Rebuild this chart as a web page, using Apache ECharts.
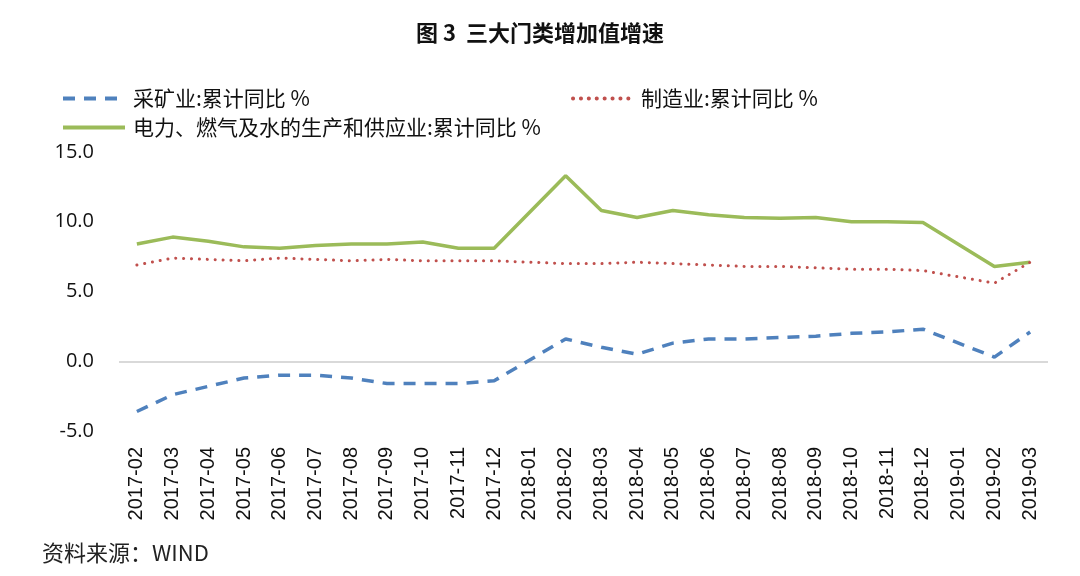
<!DOCTYPE html>
<html>
<head>
<meta charset="utf-8">
<script src="https://cdn.jsdelivr.net/npm/echarts@6/dist/echarts.min.js"></script>
<style>
html,body{margin:0;padding:0;background:#fff;}
#chart{width:1080px;height:576px;}
</style>
</head>
<body>
<div id="chart"></div>
<script>
const titleText = '图 3  三大门类增加值增速';
const sourceText = '资料来源：WIND';
const categories = ['2017-02','2017-03','2017-04','2017-05','2017-06','2017-07','2017-08','2017-09','2017-10','2017-11','2017-12','2018-01','2018-02','2018-03','2018-04','2018-05','2018-06','2018-07','2018-08','2018-09','2018-10','2018-11','2018-12','2019-01','2019-02','2019-03'];
const seriesNames = ['采矿业:累计同比 %','制造业:累计同比 %','电力、燃气及水的生产和供应业:累计同比 %'];
const mining = [-3.6,-2.4,-1.8,-1.2,-1.0,-1.0,-1.2,-1.6,-1.6,-1.6,-1.4,null,1.6,1.0,0.5,1.3,1.6,1.6,1.7,1.8,2.0,2.1,2.3,null,0.3,2.1];
const manufacturing = [6.9,7.4,7.3,7.2,7.4,7.3,7.2,7.3,7.2,7.2,7.2,null,7.0,7.0,7.1,7.0,6.9,6.8,6.8,6.7,6.6,6.6,6.5,null,5.6,7.1];
const utilities = [8.4,8.9,8.6,8.2,8.1,8.3,8.4,8.4,8.55,8.1,8.1,null,13.3,10.8,10.3,10.8,10.5,10.3,10.25,10.3,10.0,10.0,9.95,null,6.8,7.1];
const yTicks = {min:-5, max:15, interval:5};

const chart = echarts.init(document.getElementById('chart'));
const cjk = '"Noto Sans CJK SC", "Noto Sans", sans-serif';
const legendText = {fontFamily:cjk, fontSize:21, color:'#111', padding:[0,0,0,3]};
const legendBase = {padding:0, itemHeight:16, itemStyle:{opacity:0}, lineStyle:{width:4}, textStyle:legendText};
chart.setOption({
  backgroundColor:'#fff',
  animation:false,
  title:[
    {text:titleText, left:'center', top:17, textStyle:{fontFamily:cjk, fontSize:22, fontWeight:'bold', color:'#111'}},
    {text:sourceText, left:37, top:537, textStyle:{fontFamily:cjk, fontSize:22, fontWeight:'normal', color:'#222'}}
  ],
  legend:[
    Object.assign({data:[seriesNames[0]], left:61, top:88, itemWidth:62}, legendBase),
    Object.assign({data:[seriesNames[1]], left:571, top:88, itemWidth:60}, legendBase),
    Object.assign({data:[seriesNames[2]], left:61, top:117, itemWidth:62}, legendBase)
  ],
  grid:{left:119, right:32, top:152, height:279, containLabel:false},
  xAxis:{
    type:'category', data:categories, boundaryGap:true,
    axisLine:{show:false, onZero:false}, axisTick:{show:false},
    axisLabel:{rotate:90, margin:16, fontFamily:'"Liberation Sans", Arial, sans-serif', fontSize:20, color:'#111', interval:0}
  },
  yAxis:{
    type:'value', min:yTicks.min, max:yTicks.max, interval:yTicks.interval,
    axisLine:{show:false}, axisTick:{show:false}, splitLine:{show:false},
    axisLabel:{margin:25, fontFamily:'"Open Sans", sans-serif', fontSize:20, color:'#111', formatter:v=>v.toFixed(1)}
  },
  series:[
    {name:seriesNames[0], type:'line', data:mining, connectNulls:true, symbol:'none', z:3,
     lineStyle:{color:'#4F81BD', width:3.5, type:[12,9]}, itemStyle:{color:'#4F81BD'},
     markLine:{silent:true, symbol:'none', label:{show:false}, z:1,
       lineStyle:{color:'#D9D9D9', width:2, type:'solid'}, data:[{yAxis:0}]}},
    {name:seriesNames[1], type:'line', data:manufacturing, connectNulls:true, symbol:'none', z:4,
     lineStyle:{color:'#C0504D', width:3, type:[0.1,7.8], cap:'round'}, itemStyle:{color:'#C0504D'}},
    {name:seriesNames[2], type:'line', data:utilities, connectNulls:true, symbol:'none', z:2,
     lineStyle:{color:'#9BBB59', width:3.5, type:'solid'}, itemStyle:{color:'#9BBB59'}}
  ]
});
</script>
</body>
</html>
